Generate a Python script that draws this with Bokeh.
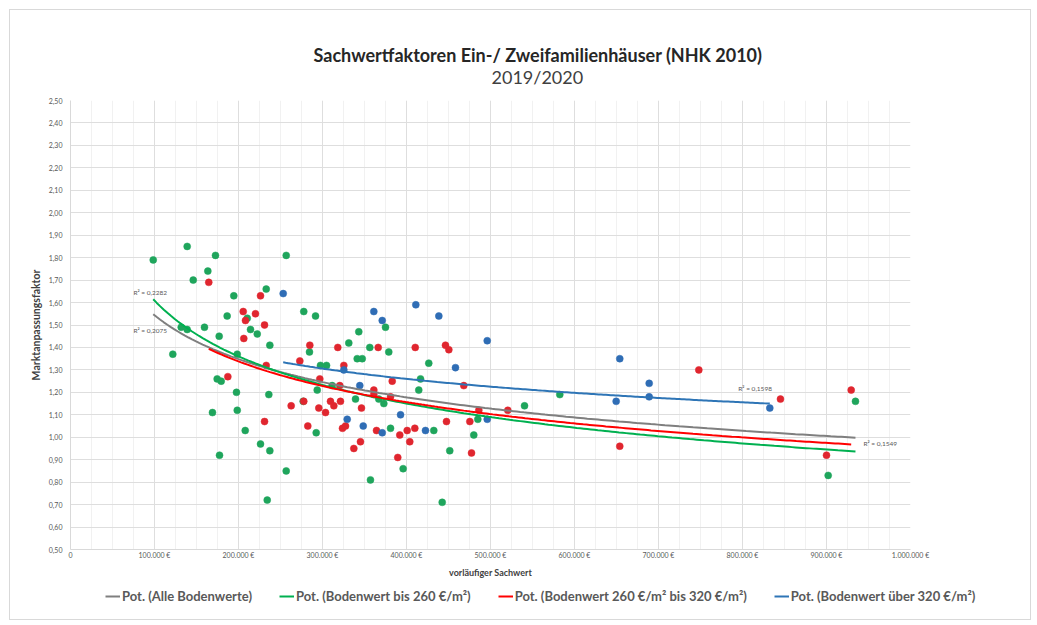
import numpy as np
from bokeh.plotting import figure
from bokeh.layouts import column
from bokeh.models import (ColumnDataSource, Legend, LegendItem, FixedTicker,
                          CustomJSTickFormatter, Range1d, Label, Title)
from bokeh.embed import file_html
from bokeh.resources import INLINE

# ---------------- texts ----------------
title_text = "Sachwertfaktoren Ein-/ Zweifamilienhäuser (NHK 2010)"
subtitle_text = "2019/2020"
x_axis_title = "vorläufiger Sachwert"
y_axis_title = "Marktanpassungsfaktor"

# ---------------- ticks ----------------
x_ticks = [0, 100000, 200000, 300000, 400000, 500000, 600000, 700000, 800000, 900000, 1000000]
x_tick_labels = ["0", "100.000 €", "200.000 €", "300.000 €", "400.000 €", "500.000 €",
                 "600.000 €", "700.000 €", "800.000 €", "900.000 €", "1.000.000 €"]
y_ticks = [0.50, 0.60, 0.70, 0.80, 0.90, 1.00, 1.10, 1.20, 1.30, 1.40, 1.50,
           1.60, 1.70, 1.80, 1.90, 2.00, 2.10, 2.20, 2.30, 2.40, 2.50]
y_tick_labels = ["0,50", "0,60", "0,70", "0,80", "0,90", "1,00", "1,10", "1,20", "1,30", "1,40", "1,50",
                 "1,60", "1,70", "1,80", "1,90", "2,00", "2,10", "2,20", "2,30", "2,40", "2,50"]

# ---------------- data (vorläufiger Sachwert in €, Marktanpassungsfaktor) ----------------
# Bodenwert bis 260 €/m²
green_x = [98500, 138900, 172600, 256800, 163500, 146100, 233000, 194400, 277700, 291700,
           186500, 131800, 138900, 159500, 177000, 210400, 214300, 222300, 237300, 343200,
           375000, 331300, 356300, 121800, 284500, 378900, 341300, 347300, 198500, 426500,
           297600, 304800, 174600, 179400, 197600, 236100, 293700, 311500, 339300, 277000,
           373000, 367000, 414600, 416700, 169000, 198500, 381000, 432500, 208000, 292500,
           226200, 237300, 177400, 396000, 256800, 357100, 234200, 582500, 540500, 484900,
           480100, 451500, 442500, 934500, 902000]
green_y = [1.79, 1.85, 1.81, 1.81, 1.74, 1.70, 1.66, 1.63, 1.56, 1.54,
           1.54, 1.49, 1.48, 1.49, 1.45, 1.53, 1.48, 1.46, 1.41, 1.47,
           1.49, 1.42, 1.40, 1.37, 1.38, 1.38, 1.35, 1.35, 1.37, 1.33,
           1.32, 1.32, 1.26, 1.25, 1.20, 1.19, 1.21, 1.23, 1.17, 1.16,
           1.15, 1.17, 1.21, 1.26, 1.11, 1.12, 1.04, 1.03, 1.03, 1.02,
           0.97, 0.94, 0.92, 0.86, 0.85, 0.81, 0.72, 1.19, 1.14, 1.08,
           1.01, 0.94, 0.71, 1.16, 0.83]

# Bodenwert 260 €/m² bis 320 €/m²
red_x = [164600, 226200, 205600, 220200, 208300, 231000, 206300, 284900, 318200, 366300,
         410400, 273000, 325400, 233000, 187300, 296800, 320600, 383000, 361100, 361100,
         381000, 277700, 262700, 309500, 321400, 313500, 295600, 346400, 303600, 231000,
         282500, 323800, 327400, 364300, 400800, 409900, 392000, 345200, 403900, 337300,
         389600, 446400, 450400, 468200, 520600, 486100, 475400, 447600, 477400, 748000,
         845200, 929400, 653900, 900000]
red_y = [1.69, 1.63, 1.56, 1.55, 1.52, 1.50, 1.44, 1.41, 1.40, 1.40,
         1.40, 1.34, 1.32, 1.32, 1.27, 1.26, 1.23, 1.25, 1.21, 1.19,
         1.18, 1.16, 1.14, 1.16, 1.16, 1.14, 1.13, 1.13, 1.11, 1.07,
         1.05, 1.04, 1.05, 1.03, 1.03, 1.04, 1.01, 0.98, 0.98, 0.95,
         0.91, 1.41, 1.39, 1.23, 1.12, 1.12, 1.07, 1.07, 0.93, 1.30,
         1.17, 1.21, 0.96, 0.92]

# Bodenwert über 320 €/m²
blue_x = [253200, 411100, 361100, 371100, 438500, 325400, 344400, 392900, 329400, 348500,
          371100, 422600, 496100, 458300, 496100, 653900, 649600, 688900, 688900, 832500]
blue_y = [1.64, 1.59, 1.56, 1.52, 1.54, 1.30, 1.23, 1.10, 1.08, 1.05,
          1.02, 1.03, 1.43, 1.31, 1.08, 1.35, 1.16, 1.24, 1.18, 1.13]

# ---------------- power trend lines (y = a * x^b) ----------------
trend_names = ["Pot. (Alle Bodenwerte)", "Pot. (Bodenwert bis 260 €/m²)",
               "Pot. (Bodenwert 260 €/m² bis 320 €/m²)", "Pot. (Bodenwert über 320 €/m²)"]
trend_a = [14.57, 26.09, 17.47, 6.294]
trend_b = [-0.195, -0.242, -0.2105, -0.1247]
trend_colors = ["#7f7f7f", "#00b050", "#ff0000", "#2e75b6"]
r2_texts = ["R² = 0,2075", "R² = 0,2282", "R² = 0,1549", "R² = 0,1598"]

point_colors = ["#1fa55c", "#e0262f", "#2f6db5"]

FONT = "Lato"
GREY = "#595959"

p = figure(frame_width=840, frame_height=449, output_backend="svg", toolbar_location=None,
           x_range=Range1d(0, 1000000), y_range=Range1d(0.5, 2.5),
           min_border_left=60, min_border_right=120, min_border_top=90, min_border_bottom=38,
           background_fill_color="white", border_fill_color="white", outline_line_color=None)
p.frame_align = False

fmt_code = """
let best = 0, dmin = Infinity;
for (let k = 0; k < tv.length; k++) {
  const d = Math.abs(tv[k] - tick);
  if (d < dmin) { dmin = d; best = k; }
}
return tl[best];
"""
x_minor = list(range(0, 1000001, 25000))
p.xaxis.ticker = FixedTicker(ticks=x_ticks, minor_ticks=x_minor)
p.yaxis.ticker = FixedTicker(ticks=y_ticks)
p.xaxis.formatter = CustomJSTickFormatter(args=dict(tv=x_ticks, tl=x_tick_labels), code=fmt_code)
p.yaxis.formatter = CustomJSTickFormatter(args=dict(tv=y_ticks, tl=y_tick_labels), code=fmt_code)

for ax in (p.xaxis[0], p.yaxis[0]):
    ax.major_label_text_font = FONT
    ax.major_label_text_font_size = "7px"
    ax.major_label_text_color = GREY
    ax.axis_label_text_font = FONT
    ax.axis_label_text_font_style = "bold"
    ax.axis_label_text_color = "#404040"
    ax.axis_line_color = "#d9d9d9"
    ax.major_tick_line_color = None
    ax.minor_tick_line_color = None
    ax.major_tick_out = 0
    ax.major_tick_in = 0
    ax.minor_tick_out = 0
    ax.minor_tick_in = 0
p.xaxis.axis_label = x_axis_title
p.yaxis.axis_label = y_axis_title
p.xaxis.axis_label_text_font_size = "9px"
p.yaxis.axis_label_text_font_size = "10.5px"
p.xaxis.major_label_standoff = 1
p.xaxis.axis_label_standoff = 5
p.yaxis.major_label_standoff = 8
p.yaxis.axis_label_standoff = 4

p.xgrid.ticker = FixedTicker(ticks=x_ticks, minor_ticks=x_minor)
p.ygrid.ticker = FixedTicker(ticks=y_ticks)
p.xgrid.grid_line_color = "#dedede"
p.ygrid.grid_line_color = "#dedede"
p.xgrid.minor_grid_line_color = "#f1f1f1"

# points
for xs, ys, c in ((green_x, green_y, point_colors[0]), (red_x, red_y, point_colors[1]),
                  (blue_x, blue_y, point_colors[2])):
    src = ColumnDataSource(dict(x=xs, y=ys))
    p.scatter("x", "y", source=src, size=7, fill_color=c, line_color=c, line_width=0.5)

# trend lines
all_x = green_x + red_x + blue_x
series_x = [all_x, green_x, red_x, blue_x]
for xs, a, b, c in zip(series_x, trend_a, trend_b, trend_colors):
    tx = np.linspace(min(xs), max(xs), 200)
    ty = a * tx ** b
    p.line(tx, ty, line_color=c, line_width=2)

# R² labels (positions in data units)
r2_pos_x = [95000, 95000, 964000, 815000]
r2_pos_y = [1.476, 1.645, 0.972, 1.217]
for t, xx, yy in zip(r2_texts, r2_pos_x, r2_pos_y):
    p.add_layout(Label(x=xx, y=yy, text=t, text_font=FONT, text_font_size="6.5px",
                       text_color=GREY, text_align="center", text_baseline="middle"))

# titles (first added sits closest to the frame); the first one is an empty spacer
p.add_layout(Title(text=" ", standoff=10, text_font=FONT, text_font_size="1px"), "above")
p.add_layout(Title(text=subtitle_text, align="left", offset=421, standoff=0,
                   text_font=FONT, text_font_size="18px", text_font_style="normal",
                   text_color="#404040"), "above")
p.add_layout(Title(text=title_text, align="left", offset=243, standoff=-5,
                   text_font=FONT, text_font_size="18px", text_font_style="bold",
                   text_color="#262626"), "above")

# legend strip below the chart
leg = figure(width=1020, height=32, output_backend="svg", toolbar_location=None,
             x_range=Range1d(0, 1), y_range=Range1d(0, 1), min_border=0,
             background_fill_color="white", border_fill_color="white", outline_line_color=None)
leg.frame_align = False
leg.axis.visible = False
leg.grid.visible = False
leg_renderers = [leg.line(x=[-1, -2], y=[-1, -2], line_color=c, line_width=2) for c in trend_colors]
legend = Legend(items=[LegendItem(label=n, renderers=[r]) for n, r in zip(trend_names, leg_renderers)],
                orientation="horizontal", location=(95, 15),
                label_text_font=FONT, label_text_font_size="13px", label_text_font_style="bold",
                label_text_color=GREY, glyph_width=15, glyph_height=10, label_standoff=2,
                spacing=27, padding=2, margin=0, border_line_color=None,
                background_fill_alpha=0)
leg.add_layout(legend, "center")

page = column(p, leg, spacing=0,
              styles={"border": "1px solid #d9d9d9", "margin-left": "9px", "margin-top": "9px"})

open("out.html", "w").write(file_html(page, INLINE))
